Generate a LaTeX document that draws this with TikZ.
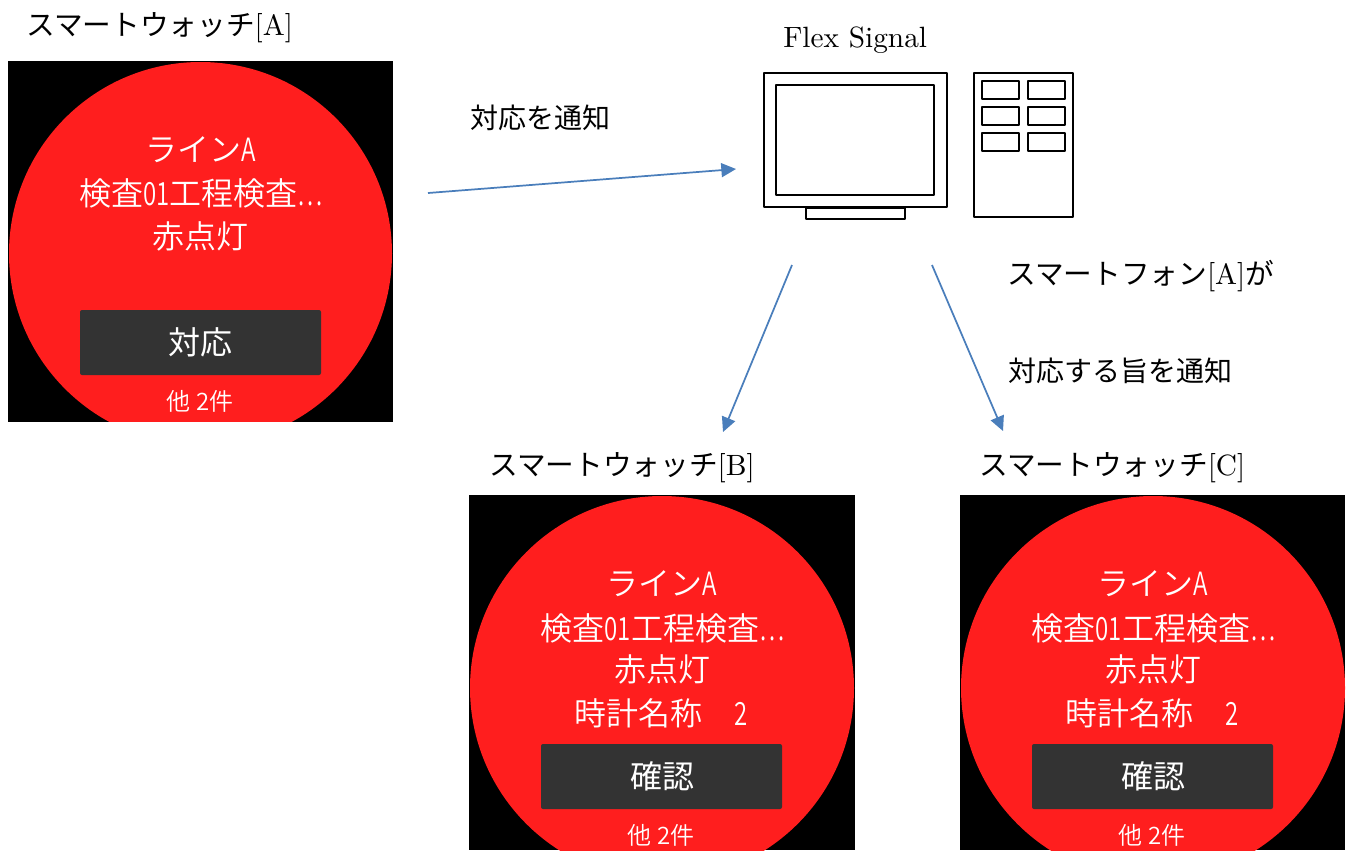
\documentclass[tikz,border=0pt]{standalone}
\usepackage{fontspec}
\setmainfont{lmroman10-regular.otf}
\newfontfamily\cjk{Noto Sans CJK JP}
\newfontfamily\cjkthin[UprightFont=* DemiLight]{Noto Sans CJK JP}
\newfontfamily\narrowlat[UprightFont=* DemiLight,FakeStretch=0.75]{Noto Sans CJK JP}
\newcommand{\kana}[1]{{\cjk\fontsize{21.5}{26}\selectfont #1}}
\usetikzlibrary{arrows.meta}
\definecolor{lampred}{RGB}{255,30,30}
\definecolor{btngray}{RGB}{51,51,51}
\definecolor{arrowblue}{RGB}{74,126,187}
\tikzset{
  caption/.style={anchor=west,inner sep=0pt,text=black,font=\fontsize{22}{26}\selectfont},
  note/.style={anchor=west,inner sep=0pt,text=black,font=\cjk\fontsize{21}{25}\selectfont},
  facetext/.style={inner sep=0pt,text=white,font=\cjkthin\fontsize{24}{28}\selectfont},
  btntext/.style={inner sep=0pt,text=white,font=\cjk\fontsize{24}{28}\selectfont},
  resttext/.style={inner sep=0pt,text=white,font=\cjkthin\fontsize{18}{22}\selectfont},
  face/.style={fill=lampred,draw=none},
  btn/.style={fill=btngray,draw=none,rounded corners=1.5pt},
  flow/.style={draw=arrowblue,line width=1.3pt,-{Triangle[length=11pt,width=10.5pt]}},
  outl/.style={draw=black,line width=1.9pt,fill=white,line join=round}
}

\begin{document}
\begin{tikzpicture}[x=0.75pt,y=0.75pt,yscale=-1,xscale=1]
\useasboundingbox (0,0) rectangle (1352,850);

%Watch A
\fill [black] (8,61) rectangle (393,422);
\begin{scope}
\clip (8,61) rectangle (393,421.5);
\path [face] (200.5,253.5) circle (191.5);
\end{scope}
\path [btn] (80,310) rectangle (321,375);

%Watch B
\fill [black] (469,495) rectangle (855,850);
\begin{scope}
\clip (469,495) rectangle (855,850);
\path [face] (662,688) circle (192);
\end{scope}
\path [btn] (541,744) rectangle (782,809);

%Watch C
\fill [black] (960,495) rectangle (1345,850);
\begin{scope}
\clip (960,495) rectangle (1345,850);
\path [face] (1153,688) circle (192);
\end{scope}
\path [btn] (1032,744) rectangle (1273,809);

%Monitor
\path [outl] (806,208) rectangle (905,219);
\path [outl] (764,73) rectangle (947,207);
\path [outl] (776,85) rectangle (934,195);

%Panel
\path [outl] (974,73) rectangle (1073,217);
\path [outl] (982,81) rectangle (1019,99);
\path [outl] (1028,81) rectangle (1065,99);
\path [outl] (982,107) rectangle (1019,125);
\path [outl] (1028,107) rectangle (1065,125);
\path [outl] (982,133) rectangle (1019,151);
\path [outl] (1028,133) rectangle (1065,151);

%Arrows
\coordinate (fromA) at (428,193);
\coordinate (toFlex) at (736,169);
\coordinate (fromFlexL) at (792,265);
\coordinate (toB) at (723,432);
\coordinate (fromFlexR) at (932,265);
\coordinate (toC) at (1003,431);
\draw [flow] (fromA) -- (toFlex);
\draw [flow] (fromFlexL) -- (toB);
\draw [flow] (fromFlexR) -- (toC);

% Text Node
\node [caption] (capA) at (26,28) {\kana{スマートウォッチ}[A]};
\node [caption] (capB) at (489,468) {\kana{スマートウォッチ}[B]};
\node [caption] (capC) at (979,468) {\kana{スマートウォッチ}[C]};
\node [caption] (capFlex) at (783,40) {Flex Signal};
\node [note] (capNotify) at (470.5,118) {対応を通知};
\node [caption] (capPhone) at (1007,276) {\kana{スマートフォン}[A]\kana{が}};
\node [note] (capTell) at (1008.5,371) {対応する旨を通知};

% Text Node
\node [facetext] (lineA) at (200.5,150) {ライン{\narrowlat A}};
\node [facetext] (stepA) at (201,193) {検査{\narrowlat 01}工程検査{\narrowlat …}};
\node [facetext] (lampA) at (200.5,236) {赤点灯};
\node [btntext] (btnA) at (200.5,342) {対応};
\node [resttext] (restA) at (200,401) {他 2件};

% Text Node
\node [facetext] (lineB) at (662,584) {ライン{\narrowlat A}};
\node [facetext] (stepB) at (662.5,628) {検査{\narrowlat 01}工程検査{\narrowlat …}};
\node [facetext] (lampB) at (662,669) {赤点灯};
\node [facetext] (nameB) at (661.5,713) {時計名称　{\narrowlat 2}};
\node [btntext] (btnB) at (662,776) {確認};
\node [resttext] (restB) at (661,835) {他 2件};

% Text Node
\node [facetext] (lineC) at (1153,584) {ライン{\narrowlat A}};
\node [facetext] (stepC) at (1153.5,628) {検査{\narrowlat 01}工程検査{\narrowlat …}};
\node [facetext] (lampC) at (1153,669) {赤点灯};
\node [facetext] (nameC) at (1152.5,713) {時計名称　{\narrowlat 2}};
\node [btntext] (btnC) at (1153,776) {確認};
\node [resttext] (restC) at (1152,835) {他 2件};

\end{tikzpicture}
\end{document}
